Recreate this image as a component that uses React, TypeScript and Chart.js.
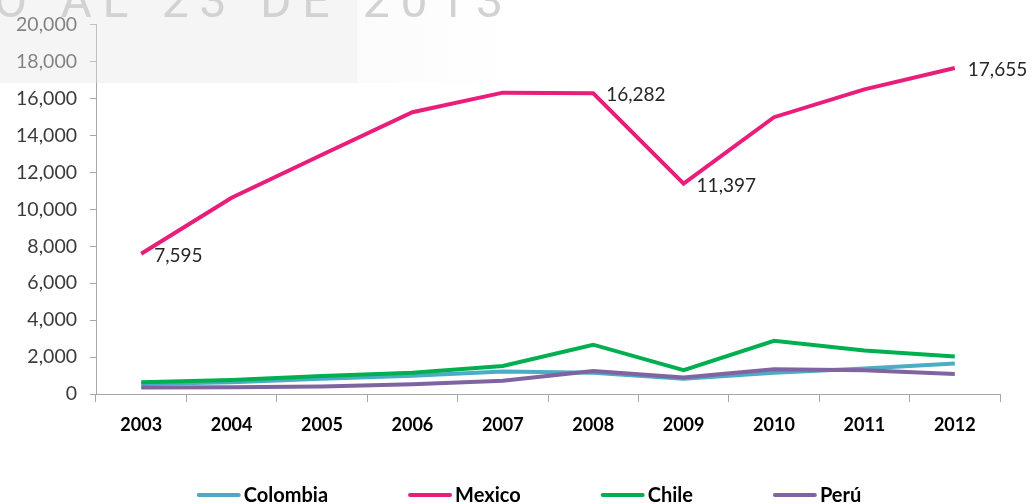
import { useEffect, useRef } from 'react';
import { Chart, registerables } from 'chart.js';

Chart.register(...registerables);

// Yearly series per country
const years = ['2003', '2004', '2005', '2006', '2007', '2008', '2009', '2010', '2011', '2012'];
const colombia = [540, 640, 830, 990, 1220, 1150, 820, 1150, 1380, 1650];
const mexico = [7595, 10630, 12960, 15260, 16320, 16282, 11397, 14990, 16500, 17655];
const chile = [640, 760, 970, 1150, 1520, 2670, 1290, 2880, 2350, 2030];
const peru = [350, 360, 400, 530, 720, 1250, 900, 1340, 1290, 1080];

// Axis range
const yMin = 0;
const yMax = 20000;
const yStep = 2000;

// Mexico points that carry a value label
const mexicoLabelled = [0, 5, 6, 9];

const bannerText = 'O AL 23 DE 2013';

const fmt = (v: number) => Number(v).toLocaleString('en-US');

const valueLabels = {
  id: 'valueLabels',
  afterDatasetsDraw(chart: any) {
    const { ctx } = chart;
    const meta = chart.getDatasetMeta(1);
    const values = chart.data.datasets[1].data as number[];
    ctx.save();
    ctx.font = '19px Lato';
    ctx.fillStyle = '#262626';
    ctx.textAlign = 'left';
    ctx.textBaseline = 'middle';
    mexicoLabelled.forEach((i) => {
      const el = meta.data[i];
      if (!el) return;
      ctx.fillText(fmt(values[i]), el.x + 13, el.y + 2);
    });
    ctx.restore();
  },
};

// Bottom legend: a line sample followed by the series name
const lineLegend = {
  id: 'lineLegend',
  afterDraw(chart: any) {
    const { ctx } = chart;
    const sample = 44;
    const textGap = 3;
    const itemGap = 80;
    const y = 495;
    const centerX = 529;
    ctx.save();
    ctx.font = 'bold 20px Lato';
    const items = chart.data.datasets.map((ds: any) => ({
      label: ds.label as string,
      color: ds.borderColor as string,
      w: ctx.measureText(ds.label).width,
    }));
    const total =
      items.reduce((s: number, it: any) => s + sample + textGap + it.w, 0) + itemGap * (items.length - 1);
    let x = centerX - total / 2;
    items.forEach((it: any) => {
      ctx.beginPath();
      ctx.strokeStyle = it.color;
      ctx.lineWidth = 4;
      ctx.lineCap = 'round';
      ctx.moveTo(x + 2, y);
      ctx.lineTo(x + sample - 2, y);
      ctx.stroke();
      ctx.fillStyle = '#000000';
      ctx.textAlign = 'left';
      ctx.textBaseline = 'middle';
      ctx.fillText(it.label, x + sample + textGap, y + 1);
      x += sample + textGap + it.w + itemGap;
    });
    ctx.restore();
  },
};

// Faded heading strip across the top-left corner
const banner = {
  id: 'banner',
  afterDraw(chart: any) {
    const { ctx } = chart;
    ctx.save();
    ctx.fillStyle = 'rgba(232,232,232,0.42)';
    ctx.fillRect(0, 0, 357, 83);
    const g = ctx.createLinearGradient(357, 0, 520, 0);
    g.addColorStop(0, 'rgba(232,232,232,0.16)');
    g.addColorStop(1, 'rgba(232,232,232,0)');
    ctx.fillStyle = g;
    ctx.fillRect(357, 0, 163, 83);

    ctx.font = '400 48px Roboto';
    ctx.textAlign = 'left';
    ctx.textBaseline = 'alphabetic';
    const startX = -6;
    const endX = 503;
    (ctx as any).letterSpacing = '0px';
    const w0 = ctx.measureText(bannerText).width;
    const spacing = (endX - startX - w0) / (bannerText.length - 1);
    (ctx as any).letterSpacing = `${spacing}px`;
    ctx.fillStyle = '#d2d2d2';
    ctx.fillText(bannerText, startX, 17);
    ctx.restore();
  },
};

export default function App() {
  const ref = useRef<HTMLCanvasElement>(null);

  useEffect(() => {
    if (!ref.current) return;
    const axisColor = '#a6a6a6';
    const chart = new Chart(ref.current, {
      type: 'line',
      data: {
        labels: years,
        datasets: [
          { label: 'Colombia', data: colombia, borderColor: '#4BACC6', backgroundColor: '#4BACC6', order: 3 },
          { label: 'Mexico', data: mexico, borderColor: '#E91E7A', backgroundColor: '#E91E7A', order: 2 },
          { label: 'Chile', data: chile, borderColor: '#00B050', backgroundColor: '#00B050', order: 1 },
          { label: 'Perú', data: peru, borderColor: '#8064A2', backgroundColor: '#8064A2', order: 0 },
        ],
      },
      options: {
        responsive: false,
        animation: false,
        devicePixelRatio: 1,
        layout: { padding: { left: 0, right: 35, top: 18, bottom: 65 } },
        elements: {
          point: { radius: 0, hoverRadius: 0 },
          line: { tension: 0, borderWidth: 4, fill: false },
        },
        plugins: {
          tooltip: { enabled: false },
          legend: { display: false },
        },
        scales: {
          x: {
            offset: true,
            grid: { offset: true, drawOnChartArea: false, drawTicks: true, tickLength: 8, color: axisColor },
            border: { color: axisColor, width: 1 },
            ticks: {
              color: '#000000',
              font: { family: 'Lato', weight: 'bold', size: 18 },
              padding: 12,
              maxRotation: 0,
              autoSkip: false,
            },
            afterFit: (s: any) => {
              s.height = 45;
            },
          },
          y: {
            min: yMin,
            max: yMax,
            grid: { drawOnChartArea: false, drawTicks: true, tickLength: 6, color: axisColor },
            border: { color: axisColor, width: 1 },
            ticks: {
              stepSize: yStep,
              color: '#3a3a3a',
              font: { family: 'Lato', size: 19.5 },
              padding: 13,
              callback: (v: any) => fmt(v),
            },
            afterFit: (s: any) => {
              s.width = 96;
            },
          },
        },
      },
      plugins: [valueLabels, lineLegend, banner],
    });
    return () => chart.destroy();
  }, []);

  return (
    <div style={{ position: 'absolute', left: 0, top: 0, width: 1035, height: 504, background: '#ffffff' }}>
      <canvas ref={ref} width={1035} height={504} style={{ display: 'block' }} />
    </div>
  );
}
